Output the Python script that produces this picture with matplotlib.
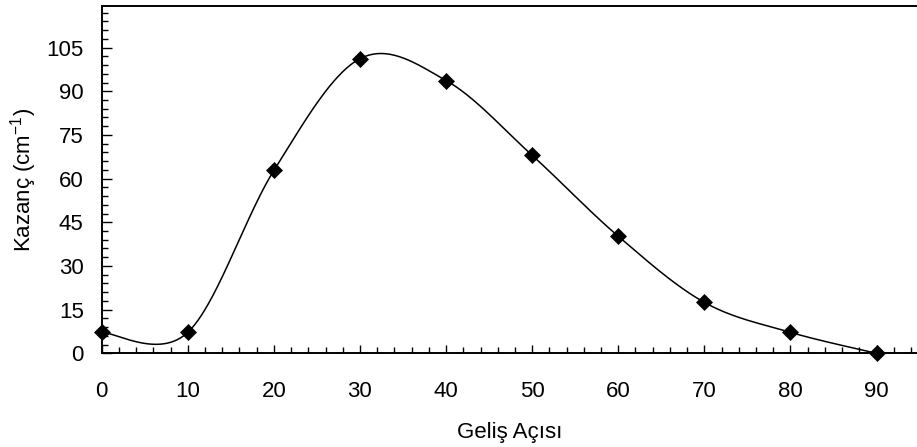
import numpy as np
import matplotlib
matplotlib.use("Agg")
import matplotlib.pyplot as plt
from matplotlib.ticker import MultipleLocator

plt.rcParams['font.family'] = ['Liberation Sans', 'DejaVu Sans']
plt.rcParams['mathtext.fontset'] = 'custom'
plt.rcParams['mathtext.rm'] = 'Liberation Sans'
plt.rcParams['mathtext.it'] = 'Liberation Sans:italic'

# Data
angles = [0, 10, 20, 30, 40, 50, 60, 70, 80, 90]
gain = [7.2, 7.2, 62.8, 101.2, 93.7, 68.0, 40.2, 17.5, 7.2, 0.0]
xticks = [0, 10, 20, 30, 40, 50, 60, 70, 80, 90]
yticks = [0, 15, 30, 45, 60, 75, 90, 105]


def smooth_curve(xs, ys, n=60):
    """Catmull-Rom (Excel-style smoothed line) through the given points."""
    P = np.column_stack([xs, ys]).astype(float)
    P = np.vstack([P[0], P, P[-1]])
    out = []
    t = np.linspace(0, 1, n)[:, None]
    for i in range(1, len(P) - 2):
        p0, p1, p2, p3 = P[i - 1], P[i], P[i + 1], P[i + 2]
        m1 = (p2 - p0) / 2
        m2 = (p3 - p1) / 2
        h00 = 2 * t**3 - 3 * t**2 + 1
        h10 = t**3 - 2 * t**2 + t
        h01 = -2 * t**3 + 3 * t**2
        h11 = t**3 - t**2
        seg = h00 * p1 + h10 * m1 + h01 * p2 + h11 * m2
        out.append(seg if i == 1 else seg[1:])
    c = np.vstack(out)
    return c[:, 0], c[:, 1]


fig = plt.figure(figsize=(9.17, 4.47), dpi=100)
ax = fig.add_axes([101.7 / 917, (447 - 353.3) / 447, (917 - 101.7) / 917, (353.3 - 6) / 447])

cx, cy = smooth_curve(angles, gain)
ax.plot(cx, cy, color='black', lw=1.1, clip_on=False, zorder=2)
ax.plot(angles, gain, linestyle='none', marker='D', ms=8.2, mfc='black', mec='black',
        mew=0.5, clip_on=False, zorder=3)

ax.set_xlim(0, 94.7)
ax.set_ylim(0, 119.3)
ax.set_xticks(xticks)
ax.set_yticks(yticks)
ax.xaxis.set_minor_locator(MultipleLocator(2))
ax.yaxis.set_minor_locator(MultipleLocator(3))

ax.tick_params(which='both', direction='in', top=False, right=False, labelsize=16, width=1.0)
ax.tick_params(axis='x', which='major', length=6, pad=20)
ax.tick_params(axis='x', which='minor', length=4)
ax.tick_params(axis='y', which='major', length=7, pad=13)
ax.tick_params(axis='y', which='minor', length=4)

for s in ['left', 'bottom', 'top']:
    ax.spines[s].set_linewidth(1.4)
ax.spines['right'].set_visible(False)

ax.set_xlabel('Geliş Açısı', fontsize=16, labelpad=14)
ax.set_ylabel('Kazanç (cm$^{\\mathregular{-1}}$)', fontsize=16, labelpad=5)

fig.savefig('out.png', dpi=100)
